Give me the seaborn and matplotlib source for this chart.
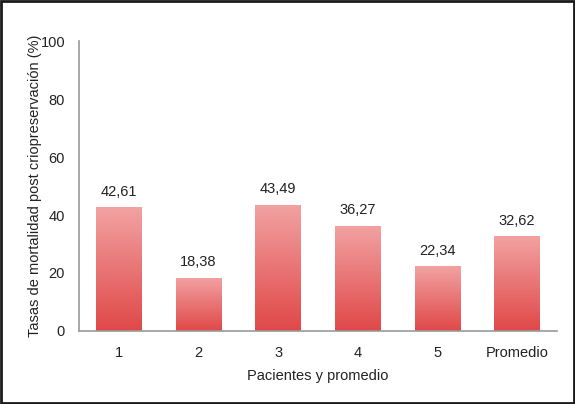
import numpy as np
import pandas as pd
import seaborn as sns
import matplotlib.pyplot as plt
from matplotlib.colors import LinearSegmentedColormap

sns.set_theme(style="white")
plt.rcParams['font.family'] = ['Liberation Sans', 'DejaVu Sans']

categorias = ["1", "2", "3", "4", "5", "Promedio"]
tasas = [42.61, 18.38, 43.49, 36.27, 22.34, 32.62]
etiquetas = ["42,61", "18,38", "43,49", "36,27", "22,34", "32,62"]

df = pd.DataFrame({"Paciente": categorias, "Tasa": tasas})

fig = plt.figure(figsize=(5.75, 4.04), dpi=100)
ax = fig.add_axes([0.1374, 0.1807, 0.8313, 0.7178])

sns.barplot(data=df, x="Paciente", y="Tasa", color="#e86a6a", width=0.57, ax=ax)

# gradient fill: light pink at top, stronger red at bottom
cmap = LinearSegmentedColormap.from_list("grad", ["#e04848", "#f2a2a2"])
grad = np.linspace(0, 1, 256).reshape(-1, 1)
for p in ax.patches:
    x0, y0 = p.get_x(), p.get_y()
    w, h = p.get_width(), p.get_height()
    p.set_facecolor("none")
    p.set_edgecolor("none")
    im = ax.imshow(grad, extent=[x0, x0 + w, y0, y0 + h], origin="lower",
                   cmap=cmap, aspect="auto", zorder=2)
    im.set_clip_path(p)

for i, (v, t) in enumerate(zip(tasas, etiquetas)):
    ax.text(i, v + 3, t, ha="center", va="bottom", fontsize=10.5, color="#222222")

ax.set_xlim(-0.5, 5.5)
ax.set_ylim(0, 100)
ax.set_yticks(range(0, 101, 20))
ax.tick_params(axis="both", length=0, labelsize=10.5, colors="#222222")
ax.tick_params(axis="x", pad=11)
ax.tick_params(axis="y", pad=10)
ax.set_xlabel("Pacientes y promedio", fontsize=10.5, color="#222222", labelpad=6)
ax.set_ylabel("Tasas de mortalidad post criopreservación (%)", fontsize=10.5,
              color="#222222", labelpad=-1)
for s in ["top", "right"]:
    ax.spines[s].set_visible(False)
for s in ["left", "bottom"]:
    ax.spines[s].set_color("#9a9a9a")
    ax.spines[s].set_linewidth(1.2)

# dark frame around the whole figure
fig.patches.append(plt.Rectangle((0.002, 0.003), 0.996, 0.994, transform=fig.transFigure,
                                 fill=False, edgecolor="#1a1a1a", lw=2.0))

fig.savefig("out.png", dpi=100)
